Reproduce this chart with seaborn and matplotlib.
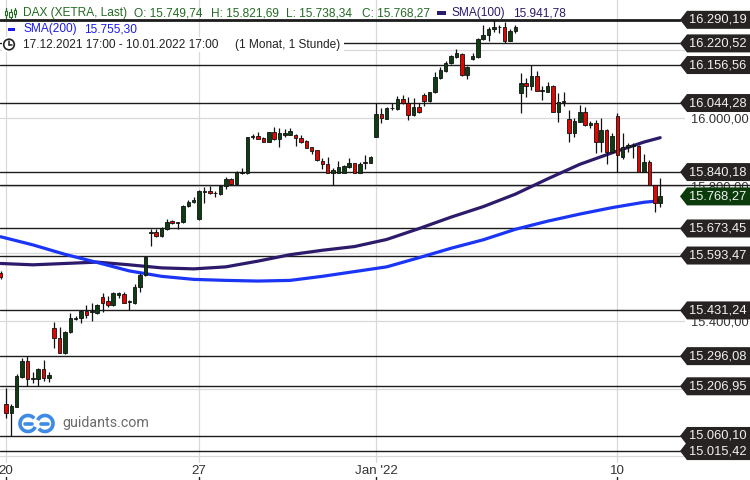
import numpy as np
import pandas as pd
import matplotlib
matplotlib.use("Agg")
import matplotlib.pyplot as plt
import matplotlib.transforms as mtransforms
from matplotlib.patches import Polygon, Circle, Arc, Rectangle
from matplotlib.lines import Line2D
import seaborn as sns

# ---------------- data (hourly candles, 17.12.2021 17:00 - 10.01.2022 17:00) ----------------
opens = [15543, 15155, 15127, 15147, 15235, 15282, 15228, 15228, 15259, 15232,
         15378, 15349, 15306, 15366, 15406, 15410, 15430, 15426, 15424,
         15472, 15459, 15447, 15477, 15479, 15457, 15454, 15500, 15536,
         15661, 15662, 15652, 15672, 15695, 15691, 15692, 15741, 15751,
         15700, 15782, 15785, 15777, 15775, 15799, 15820, 15804, 15838,
         15837, 15943, 15947, 15940, 15930, 15958, 15937, 15951, 15951,
         15950, 15940, 15933, 15913, 15905, 15874, 15863, 15838, 15838,
         15838, 15856, 15866, 15838, 15868, 15868,
         15945, 16012, 15997, 16029, 16027, 16056, 16043, 16009, 16032,
         16068, 16050, 16076, 16117, 16140, 16162, 16181, 16189, 16127,
         16173, 16181, 16233, 16245, 16263, 16268, 16270, 16229, 16256,
         16073, 16103, 16095, 16124, 16081, 16078, 16095, 16019, 16050,
         15996, 15955, 15989, 16019, 15979, 15984, 15930, 15964, 15900,
         16006, 15886, 15913, 15918, 15918, 15841, 15869, 15802, 15749.74]
highs = [15548, 15202, 15155, 15243, 15291, 15296, 15250, 15261, 15285, 15250,
         15398, 15383, 15371, 15425, 15416, 15431, 15447, 15452, 15450,
         15482, 15474, 15486, 15487, 15485, 15462, 15508, 15541, 15593,
         15673, 15672, 15678, 15700, 15698, 15694, 15743, 15758, 15767,
         15787, 15797, 15799, 15784, 15802, 15826, 15822, 15844, 15853,
         15945, 15953, 15960, 15945, 15960, 15974, 15970, 15967, 15970,
         15952, 15950, 15935, 15915, 15906, 15881, 15886, 15851, 15873,
         15861, 15883, 15867, 15871, 15891, 15888,
         16044, 16029, 16033, 16044, 16065, 16068, 16063, 16060, 16043,
         16073, 16078, 16135, 16152, 16168, 16186, 16203, 16191, 16154,
         16193, 16236, 16275, 16270, 16290, 16275, 16285, 16262, 16275,
         16134, 16117, 16157, 16139, 16095, 16107, 16097, 16075, 16078,
         16024, 16000, 16038, 16033, 15992, 15994, 15999, 15967, 15955,
         16014, 15955, 15927, 15927, 15920, 15893, 15876, 15803, 15821.69]
lows = [15524, 15113, 15060, 15146, 15231, 15207, 15216, 15208, 15223, 15220,
        15321, 15304, 15302, 15364, 15403, 15393, 15408, 15401, 15422,
        15427, 15442, 15445, 15467, 15453, 15431, 15450, 15487, 15533,
        15622, 15649, 15647, 15669, 15687, 15672, 15690, 15738, 15749,
        15698, 15750, 15776, 15767, 15772, 15789, 15803, 15802, 15834,
        15834, 15937, 15937, 15929, 15929, 15936, 15915, 15945, 15950,
        15917, 15927, 15910, 15894, 15874, 15848, 15837, 15802, 15836,
        15836, 15851, 15837, 15836, 15849, 15866,
        15943, 15986, 15996, 16024, 16024, 16040, 15994, 16007, 16014,
        16036, 16048, 16073, 16115, 16137, 16159, 16176, 16125, 16114,
        16171, 16178, 16231, 16228, 16255, 16252, 16221, 16227, 16252,
        16016, 16063, 16083, 16080, 16053, 16077, 16017, 15989, 16035,
        15930, 15945, 15987, 15976, 15970, 15897, 15900, 15864, 15896,
        15840, 15878, 15900, 15881, 15840, 15840, 15801, 15723, 15738.34]
closes = [15529, 15127, 15149, 15237, 15282, 15228, 15232, 15259, 15230, 15240,
          15349, 15306, 15368, 15408, 15410, 15430, 15418, 15430, 15447,
          15454, 15447, 15484, 15482, 15454, 15459, 15500, 15536, 15590,
          15662, 15652, 15676, 15693, 15689, 15692, 15740, 15753, 15758,
          15784, 15783, 15777, 15778, 15800, 15820, 15804, 15841, 15840,
          15943, 15948, 15939, 15930, 15958, 15937, 15955, 15955, 15962,
          15940, 15930, 15912, 15903, 15876, 15863, 15838, 15846, 15856,
          15858, 15866, 15838, 15864, 15869, 15886,
          16012, 15999, 16030, 16030, 16056, 16043, 16009, 16032, 16017,
          16051, 16076, 16120, 16142, 16162, 16183, 16191, 16127, 16152,
          16183, 16233, 16245, 16263, 16268, 16269, 16229, 16258, 16270,
          16103, 16096, 16124, 16081, 16082, 16095, 16019, 16048, 16047,
          15955, 15991, 16019, 15979, 15986, 15930, 15964, 15900, 15947,
          15891, 15915, 15920, 15919, 15841, 15869, 15802, 15748, 15768.27]

sma_idx = [0, 6, 12, 18, 24, 30, 36, 42, 48, 54, 60, 66, 72, 78, 84, 90, 96, 102, 108, 114, 120, 123]
sma100 = [15570, 15566, 15570, 15574, 15566, 15557, 15554, 15560, 15577, 15596, 15609,
          15620, 15641, 15673, 15707, 15738, 15775, 15820, 15863, 15897, 15929, 15941.78]
sma200 = [15649, 15625, 15597, 15573, 15548, 15532, 15523, 15520, 15518, 15520, 15532,
          15546, 15560, 15587, 15615, 15640, 15671, 15695, 15716, 15735, 15751, 15755.30]

levels = [16290.19, 16220.52, 16156.56, 16044.28, 15840.18, 15673.45, 15593.47,
          15431.24, 15296.08, 15206.95, 15060.10, 15015.42]
extra_level = 15802.0
last_price = 15768.27
x_tick_pos = [1, 37, 70, 115]
x_tick_labels = ["20", "27", "Jan '22", "10"]
y_grid = [15000, 15200, 15400, 15600, 15800, 16000, 16200]
y_labelled = [15400, 15800, 16000]   # the others sit fully behind price tags


def de(v):
    return f"{v:,.2f}".replace(",", "X").replace(".", ",").replace("X", ".")


# ---------------- style ----------------
sns.set_theme(style="white")
plt.rcParams["font.family"] = ["Liberation Sans", "DejaVu Sans"]

W, H = 750, 480
fig = plt.figure(figsize=(7.5, 4.8), dpi=100)
fig.patch.set_facecolor("white")
ax = fig.add_axes([0, 17 / H, 685 / W, 463 / H])
ax.set_facecolor("white")

n = len(opens)
x = np.arange(n)
ax.set_xlim(-0.12, 127.63)
ax.set_ylim(14980.2, 16348.8)

# grid
ax.set_xticks(x_tick_pos, x_tick_labels)
ax.set_yticks(y_grid, [de(v) if v in y_labelled else "" for v in y_grid])
ax.grid(True, color="#d9d9d9", lw=0.9)
ax.set_axisbelow(True)
for s in ax.spines.values():
    s.set_visible(False)
ax.yaxis.tick_right()
ax.tick_params(axis="y", length=0, pad=4, labelsize=9.3, labelcolor="#333333")
ax.tick_params(axis="x", length=0, pad=1.5, labelsize=9.6, labelcolor="#333333")
bt = mtransforms.blended_transform_factory(ax.transData, ax.transAxes)
for p in x_tick_pos:
    ax.plot([p, p], [-0.0302, -0.0367], color="#222222", lw=1.0, transform=bt, clip_on=False)

# support / resistance lines
for i, lv in enumerate(levels):
    ax.axhline(lv, xmin=0, xmax=680 / 685, color="#1c1c1c", lw=2.0 if i == 0 else 1.0, zorder=2.2)
ax.axhline(extra_level, xmin=0, xmax=750 / 685, color="#1c1c1c", lw=1.0, zorder=2.2, clip_on=False)

# moving averages
df_sma = pd.DataFrame({"idx": sma_idx, "SMA100": sma100, "SMA200": sma200})
sns.lineplot(data=df_sma, x="idx", y="SMA100", ax=ax, color="#2d1a6b", lw=2.3, zorder=2.6)
sns.lineplot(data=df_sma, x="idx", y="SMA200", ax=ax, color="#1a35f5", lw=2.3, zorder=2.6)
ax.set_xlabel("")
ax.set_ylabel("")

# candles
o = np.array(opens, float)
c = np.array(closes, float)
hi = np.array(highs, float)
lo = np.array(lows, float)
cols = np.where(c >= o, "#0e3d12", "#e10600")
ax.vlines(x, lo, hi, color="#111111", lw=0.9, zorder=3)
ax.bar(x, np.maximum(np.abs(c - o), 1.6), bottom=np.minimum(o, c), width=0.66,
       color=cols, edgecolor="#111111", linewidth=0.6, zorder=4)

# ---------------- price tags in the right margin ----------------
ident = mtransforms.IdentityTransform()


def tag(level, face, z):
    yd = ax.transData.transform((0, level))[1]
    h = 9
    poly = Polygon([[680, yd], [687, yd + h], [750, yd + h], [750, yd - h], [687, yd - h]],
                   closed=True, facecolor=face, edgecolor="none", transform=ident, zorder=z)
    fig.add_artist(poly)
    fig.text(717.5, yd, de(level), transform=ident, ha="center", va="center",
             color="#f2f2f2", fontsize=9.3, zorder=z + 0.5)


for i, lv in enumerate(levels):
    tag(lv, "#262322", 10 + i)
tag(last_price, "#0b3b0b", 30)

# ---------------- header ----------------
def px(xp, yp):
    return xp / W, 1 - yp / H


fig.add_artist(Rectangle((2, H - 52), 342, 15, transform=ident, facecolor="white",
                         edgecolor="none", zorder=40))

hfs = 8.6
green_t = "#236b23"
for xs, s in [(23, "DAX (XETRA, Last)"), (134, "O: 15.749,74"), (211, "H: 15.821,69"),
              (286, "L: 15.738,34"), (362, "C: 15.768,27")]:
    fig.text(*px(xs, 13), s, color=green_t, fontsize=hfs, va="center", ha="left", zorder=45)
fig.text(*px(452, 13), "SMA(100)", color="#2d1a6b", fontsize=hfs, va="center", zorder=45)
fig.text(*px(513, 13), "15.941,78", color="#2d1a6b", fontsize=hfs, va="center", zorder=45)
fig.add_artist(Rectangle((437, H - 15), 9, 4, transform=ident, facecolor="#2d1a6b",
                         edgecolor="none", zorder=45))
fig.text(*px(23, 29), "SMA(200)", color="#1a1af0", fontsize=hfs, va="center", zorder=45)
fig.text(*px(84, 29), "15.755,30", color="#1a1af0", fontsize=hfs, va="center", zorder=45)
fig.add_artist(Rectangle((8, H - 31), 7, 3.5, transform=ident, facecolor="#1a1af0",
                         edgecolor="none", zorder=45))
fig.text(*px(23, 45), "17.12.2021 17:00 - 10.01.2022 17:00", color="#222222",
         fontsize=hfs, va="center", zorder=45)
fig.text(*px(235, 45), "(1 Monat, 1 Stunde)", color="#222222", fontsize=hfs,
         va="center", zorder=45)

# clock icon
fig.add_artist(Circle((9, H - 44.5), 5.3, transform=ident, facecolor="none",
                      edgecolor="#222222", lw=1.2, zorder=46))
fig.add_artist(Line2D([9, 9], [H - 44.5, H - 41], transform=ident, color="#222222", lw=1.1, zorder=46))
fig.add_artist(Line2D([9, 11.8], [H - 44.5, H - 44.5], transform=ident, color="#222222", lw=1.1, zorder=46))

# candlestick icon
for cx, y0, y1, b0, b1 in [(6, 8, 18, 11, 15), (10.5, 9, 18, 12, 17), (15, 8, 17, 10, 14)]:
    fig.add_artist(Line2D([cx, cx], [H - y0, H - y1], transform=ident, color=green_t, lw=0.9, zorder=46))
    fig.add_artist(Rectangle((cx - 1.3, H - b1), 2.6, b1 - b0, transform=ident,
                             facecolor="white", edgecolor=green_t, lw=0.8, zorder=47))

# watermark
logo_c = "#3d8be6"
fig.add_artist(Arc((28, H - 423.5), 16, 16, theta1=40, theta2=335, transform=ident,
                   color=logo_c, lw=2.6, zorder=20))
fig.add_artist(Arc((45, H - 423.5), 16, 16, theta1=220, theta2=515, transform=ident,
                   color=logo_c, lw=2.6, zorder=20))
fig.add_artist(Line2D([25, 32], [H - 423.5, H - 423.5], transform=ident, color=logo_c, lw=2.6, zorder=20))
fig.add_artist(Line2D([41, 48], [H - 423.5, H - 423.5], transform=ident, color=logo_c, lw=2.6, zorder=20))
fig.text(*px(62, 423.5), "guidants.com", color="#6b6b6b", fontsize=10.3, va="center",
         family=["Roboto", "DejaVu Sans"], zorder=20)

fig.savefig("out.png", dpi=100)
